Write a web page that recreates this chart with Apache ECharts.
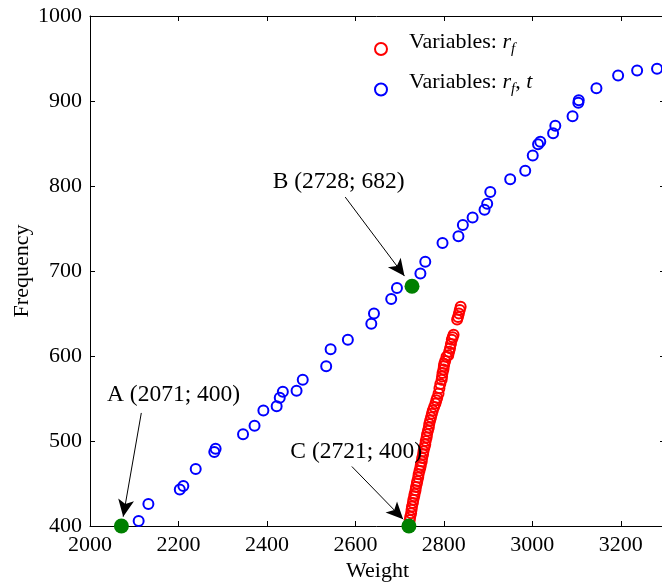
<!DOCTYPE html>
<html>
<head>
<meta charset="utf-8">
<script src="https://cdn.jsdelivr.net/npm/echarts@6/dist/echarts.min.js"></script>
<style>
  html, body { margin: 0; padding: 0; background: #fff; }
  #chart { width: 662px; height: 587px; }
</style>
</head>
<body>
<div id="chart"></div>
<script>
// Design points found with only r_f as a variable (weight, frequency)
const weightRf = [2721, 2723, 2724, 2726, 2727, 2728, 2730, 2731, 2733, 2734, 2736, 2737, 2739, 2740,
  2742, 2743, 2745, 2747, 2748, 2750, 2751, 2753, 2754, 2756, 2758, 2759, 2761, 2762, 2764, 2766,
  2767, 2769, 2771, 2773, 2775, 2778, 2781, 2783, 2785, 2788, 2790, 2792, 2795, 2796, 2797, 2799,
  2800, 2801, 2803, 2806, 2810, 2812, 2814, 2816, 2818, 2820, 2822, 2830, 2832, 2834, 2836, 2838];
const freqRf = [401, 407, 411, 415, 419, 423, 427, 431, 435, 438, 442, 446, 450, 453,
  457, 461, 465, 469, 472, 476, 480, 484, 488, 492, 496, 500, 504, 508, 512, 516,
  520, 524, 528, 532, 536, 540, 544, 548, 551, 556, 562, 567, 572, 576, 580, 584,
  588, 591, 594, 599, 601, 605, 609, 614, 619, 622, 625, 643, 646, 650, 654, 658];

// Design points found with r_f and t as variables
const weightRfT = [2071, 2110, 2132, 2203, 2211, 2239, 2281, 2284, 2346, 2372, 2392, 2422, 2429, 2436,
  2467, 2481, 2534, 2544, 2583, 2636, 2642, 2681, 2694, 2728, 2747, 2758, 2797, 2833, 2843, 2865,
  2892, 2898, 2905, 2950, 2984, 3001, 3013, 3018, 3047, 3052, 3091, 3104, 3105, 3145, 3194, 3237, 3282];
const freqRfT = [400, 406, 426, 443, 447, 467, 487, 491, 508, 518, 536, 541, 551, 558,
  559, 572, 588, 608, 619, 638, 650, 667, 680, 682, 697, 711, 733, 741, 754, 763,
  772, 779, 793, 808, 818, 836, 849, 852, 862, 871, 882, 898, 901, 915, 930, 936, 938];

// Highlighted designs
const highlightNames = ['A', 'B', 'C'];
const highlightWeight = [2071, 2728, 2721];
const highlightFreq = [400, 682, 400];
// Where each label sits and where its arrow starts and ends (data coordinates)
const labelWeight = [2189, 2562, 2602];
const labelFreq = [554, 805, 487];
const arrowStartWeight = [2116, 2577, 2592];
const arrowStartFreq = [533, 787, 470];
const arrowEndWeight = [2075, 2711, 2708];
const arrowEndFreq = [411, 694, 408];

// Axes
const xMin = 2000, xMax = 3300, xStep = 200;
const yMin = 400, yMax = 1000, yStep = 100;

const FONT = 'Liberation Serif';
const nameRf = 'rf';
const nameRfT = 'rf_t';

const zip = (a, b) => a.map((v, i) => [v, b[i]]);

const chart = echarts.init(document.getElementById('chart'), null, { renderer: 'canvas' });

const axisBase = {
  type: 'value',
  axisLine: { show: true, onZero: false, lineStyle: { color: '#000', width: 1 } },
  axisTick: { show: true, inside: true, length: 5, lineStyle: { color: '#000', width: 1 } },
  splitLine: { show: false }
};

const plain = v => String(v);

chart.setOption({
  animation: false,
  backgroundColor: '#fff',
  textStyle: { fontFamily: FONT },
  grid: { left: 90, right: -3, top: 16, bottom: 61, containLabel: false, outerBoundsMode: 'none' },
  legend: {
    left: 369,
    top: 26,
    orient: 'vertical',
    itemWidth: 46,
    itemHeight: 12,
    itemGap: 15,
    data: [
      { name: nameRf, icon: 'circle', itemStyle: { color: 'transparent', borderColor: '#ff0000', borderWidth: 2 } },
      { name: nameRfT, icon: 'circle', itemStyle: { color: 'transparent', borderColor: '#0000ff', borderWidth: 2 } }
    ],
    formatter: function (name) {
      if (name === nameRf) return '{n|Variables: }{i|r}{s|f}';
      return '{n|Variables: }{i|r}{s|f}{n|, }{i|t}';
    },
    textStyle: {
      fontFamily: FONT,
      fontSize: 22,
      color: '#000',
      rich: {
        n: { fontFamily: FONT, fontSize: 22, color: '#000', lineHeight: 28, verticalAlign: 'top' },
        i: { fontFamily: FONT, fontSize: 22, fontStyle: 'italic', color: '#000', lineHeight: 28, verticalAlign: 'top' },
        s: { fontFamily: FONT, fontSize: 15, fontStyle: 'italic', color: '#000', lineHeight: 36 }
      }
    }
  },
  xAxis: [
    Object.assign({}, axisBase, {
      min: xMin, max: xMax, interval: xStep,
      name: 'Weight', nameLocation: 'middle', nameGap: 34, nameMoveOverlap: false,
      nameTextStyle: { fontFamily: FONT, fontSize: 22, color: '#000' },
      axisLabel: { fontFamily: FONT, fontSize: 22, color: '#000', margin: 8, showMaxLabel: false, formatter: plain }
    }),
    Object.assign({}, axisBase, {
      min: xMin, max: xMax, interval: xStep, position: 'top',
      axisLabel: { show: false }
    })
  ],
  yAxis: [
    Object.assign({}, axisBase, {
      min: yMin, max: yMax, interval: yStep,
      name: 'Frequency', nameLocation: 'middle', nameGap: 57, nameMoveOverlap: false,
      nameTextStyle: { fontFamily: FONT, fontSize: 22, color: '#000' },
      axisLabel: { fontFamily: FONT, fontSize: 22, color: '#000', margin: 8, formatter: plain }
    }),
    Object.assign({}, axisBase, {
      min: yMin, max: yMax, interval: yStep, position: 'right',
      axisLabel: { show: false }
    })
  ],
  series: [
    {
      name: nameRf,
      type: 'scatter',
      symbol: 'circle',
      symbolSize: 10,
      data: zip(weightRf, freqRf),
      itemStyle: { color: 'transparent', borderColor: '#ff0000', borderWidth: 2, opacity: 1 },
      z: 3
    },
    {
      name: nameRfT,
      type: 'scatter',
      symbol: 'circle',
      symbolSize: 10,
      data: zip(weightRfT, freqRfT),
      itemStyle: { color: 'transparent', borderColor: '#0000ff', borderWidth: 2, opacity: 1 },
      z: 3
    },
    {
      name: 'highlight',
      type: 'scatter',
      symbol: 'circle',
      symbolSize: 15,
      data: zip(highlightWeight, highlightFreq),
      itemStyle: { color: '#008000', borderWidth: 0, opacity: 1 },
      z: 4,
      markLine: {
        silent: true,
        symbol: ['none', 'arrow'],
        symbolSize: [12, 17],
        lineStyle: { color: '#000', width: 1, type: 'solid' },
        label: { show: false },
        data: highlightNames.map((n, i) => [
          { coord: [arrowStartWeight[i], arrowStartFreq[i]] },
          { coord: [arrowEndWeight[i], arrowEndFreq[i]] }
        ])
      },
      markPoint: {
        silent: true,
        symbol: 'circle',
        symbolSize: 1,
        itemStyle: { color: 'transparent' },
        label: {
          show: true,
          position: 'inside',
          fontFamily: FONT,
          fontSize: 23.5,
          color: '#000',
          formatter: p => p.name
        },
        data: highlightNames.map((n, i) => ({
          name: n + ' (' + highlightWeight[i] + '; ' + highlightFreq[i] + ')',
          coord: [labelWeight[i], labelFreq[i]]
        }))
      }
    }
  ]
});
</script>
</body>
</html>
